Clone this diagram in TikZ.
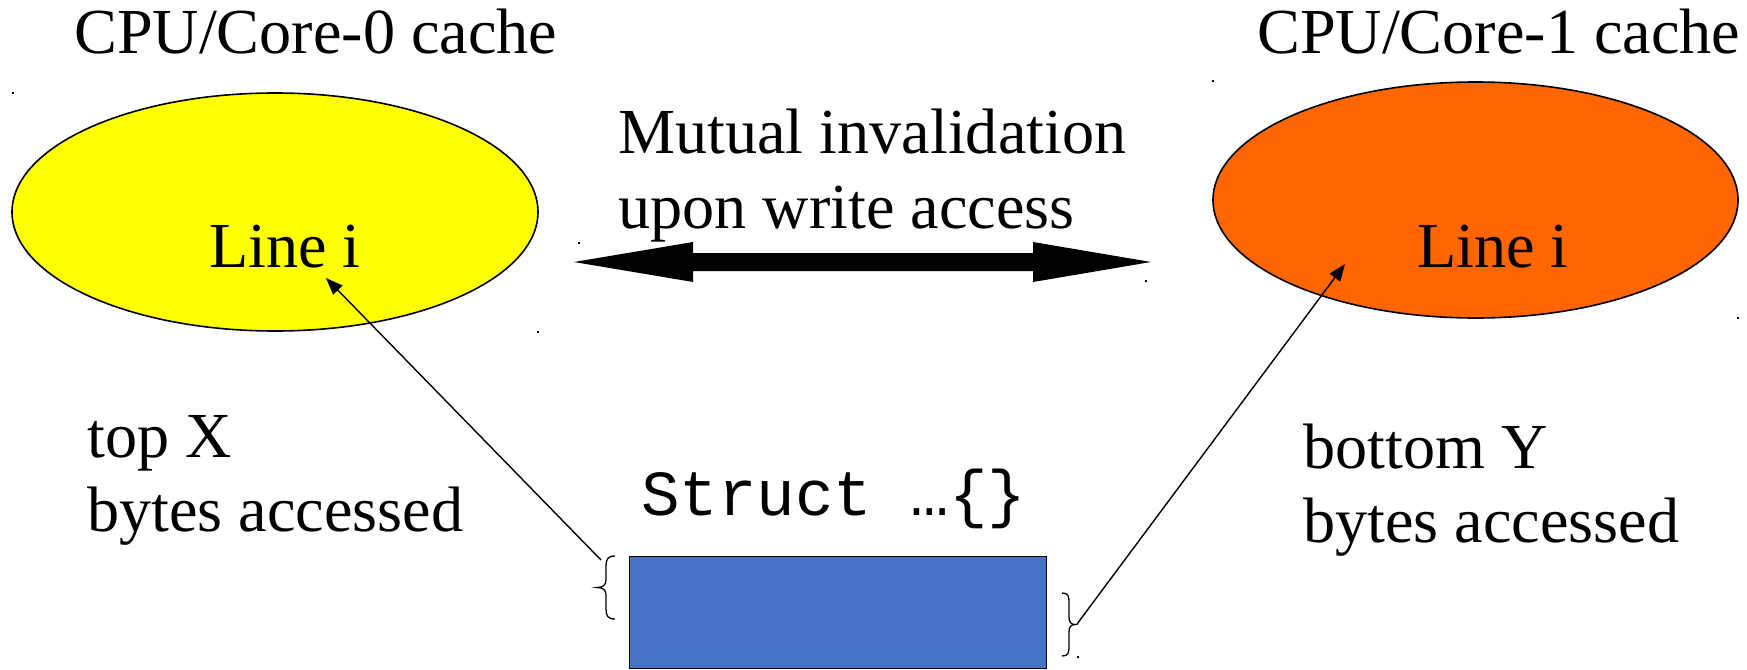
\documentclass[tikz,border=0pt]{standalone}
\usepackage{fontspec}
\setmainfont{Liberation Serif}
\setmonofont{Liberation Mono}
\usetikzlibrary{shapes.geometric,arrows.meta}
\definecolor{cyellow}{HTML}{FFFF00}
\definecolor{corange}{HTML}{FF6600}
\definecolor{cblue}{HTML}{4472C4}
\begin{document}
\begin{tikzpicture}[x=1pt,y=-1pt,
  lbl/.style={inner sep=0pt,anchor=base west,font=\fontsize{64.2}{76}\selectfont},
  mono/.style={inner sep=0pt,anchor=base west,font=\fontsize{64.2}{76}\selectfont\ttfamily},
  cache/.style={ellipse,draw=black,line width=1.6pt,inner sep=0pt},
  ptr/.style={line width=1.4pt,-{Triangle[length=17pt,width=13pt]}},
  brc/.style={line width=1.3pt},
  dotmark/.style={fill=black,inner sep=0pt,minimum size=2.2pt,rectangle}]
\useasboundingbox (0,0) rectangle (1747,669);

% caches
\node[cache, fill=cyellow, minimum width=526pt, minimum height=238pt] (c0) at (275,212) {};
\node[cache, fill=corange, minimum width=525pt, minimum height=236pt] (c1) at (1475.5,200) {};

% titles
\node[lbl] (t0) at (74,53) {CPU/Core-0 cache};
\node[lbl] (t1) at (1257,53) {CPU/Core-1 cache};

% line labels
\node[lbl] (l0) at (209,267) {Line i};
\node[lbl] (l1) at (1417,267) {Line i};

% mutual invalidation
\node[lbl] (m1) at (618,153) {Mutual invalidation};
\node[lbl] (m2) at (618,228.5) {upon write access};

% double arrow
\coordinate (dl) at (574,262);
\coordinate (dr) at (1151,262);
\fill (dl) -- (693,242) -- (693,253) -- (1033,253) -- (1033,242) -- (dr)
      -- (1033,282) -- (1033,271) -- (693,271) -- (693,282) -- cycle;

% side labels
\node[lbl] (x1) at (87,457) {top X};
\node[lbl] (x2) at (87,531.5) {bytes accessed};
\node[lbl] (y1) at (1303,468) {bottom Y};
\node[lbl] (y2) at (1303,542.5) {bytes accessed};

% struct
\node[mono] (st) at (641,515) {Struct …\{\}};
\node[draw=black, fill=cblue, line width=1.3pt, anchor=north west,
      minimum width=417pt, minimum height=112pt, inner sep=0pt] (blk) at (629,556) {};

% braces
\draw[brc] (615,556) .. controls (608,556) and (606,559) .. (606,566) -- (606,580)
  .. controls (606,585) and (603,587.5) .. (597,587.5)
  .. controls (603,587.5) and (606,590) .. (606,595) -- (606,609)
  .. controls (606,616) and (608,619) .. (615,619);
\draw[brc] (1062,593) .. controls (1068,593) and (1069,596) .. (1069,602) -- (1069,617)
  .. controls (1069,622) and (1071,624.5) .. (1075,624.5)
  .. controls (1071,624.5) and (1069,627) .. (1069,632) -- (1069,647)
  .. controls (1069,653) and (1068,656) .. (1062,656);

% pointers
\coordinate (lsrc) at (601,560);
\coordinate (ltip) at (326,278);
\coordinate (rsrc) at (1077,624);
\coordinate (rtip) at (1345,264);
\draw[ptr] (lsrc) -- (ltip);
\draw[ptr] (rsrc) -- (rtip);

% tiny marks
\node[dotmark] (d1) at (13,93) {};
\node[dotmark] (d2) at (538,332) {};
\node[dotmark] (d3) at (1213,81) {};
\node[dotmark] (d4) at (1738,318) {};
\node[dotmark] (d5) at (579,243) {};
\node[dotmark] (d6) at (1146,281) {};
\node[dotmark] (d7) at (1078,657) {};
\end{tikzpicture}
\end{document}
